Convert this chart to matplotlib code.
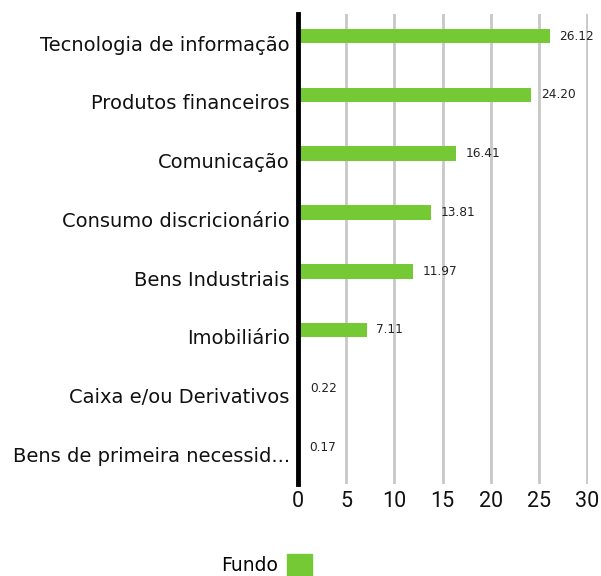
import matplotlib.pyplot as plt
from matplotlib.patches import Patch

plt.rcParams['font.family'] = ['DejaVu Sans']

categories = [
    "Tecnologia de informação",
    "Produtos financeiros",
    "Comunicação",
    "Consumo discricionário",
    "Bens Industriais",
    "Imobiliário",
    "Caixa e/ou Derivativos",
    "Bens de primeira necessid...",
]
fundo = [26.12, 24.20, 16.41, 13.81, 11.97, 7.11, 0.22, 0.17]
x_ticks = [0, 5, 10, 15, 20, 25, 30]

green = "#75c934"

fig = plt.figure(figsize=(6.01, 5.76), dpi=100)
ax = fig.add_axes([0.496, 0.160, 0.482, 0.816])

pos = list(range(len(categories)))
bars = ax.barh([p - 0.12 for p in pos], fundo, height=0.25, color=green, zorder=3)

for bar, v in zip(bars, fundo):
    ax.text(bar.get_width() + 1.0, bar.get_y() + bar.get_height() / 2,
            f"{v:.2f}", va="center", ha="left", fontsize=8.7, color="#222222")

ax.set_yticks(pos)
ax.set_yticklabels(categories, fontsize=14, color="#111111")
ax.set_ylim(7.5, -0.5)
ax.set_xlim(0, 30.05)
ax.set_xticks(x_ticks)
ax.set_xticklabels([str(t) for t in x_ticks], fontsize=15.5, color="#111111",
                   family="Roboto")
ax.tick_params(axis="both", length=0)
ax.tick_params(axis="y", pad=6)
ax.tick_params(axis="x", pad=5)

ax.grid(axis="x", color="#c8c8c8", linewidth=2, zorder=0)
for s in ["top", "right", "bottom"]:
    ax.spines[s].set_visible(False)
ax.spines["left"].set_linewidth(3.5)
ax.spines["left"].set_color("black")
ax.spines["left"].set_zorder(4)

fig.legend(handles=[Patch(color=green, label="Fundo")], loc="center",
           bbox_to_anchor=(0.443, 0.02), frameon=False, markerfirst=False,
           fontsize=13.5, handlelength=1.3, handleheight=1.3, handletextpad=0.5)

fig.savefig("out.png", dpi=100)
